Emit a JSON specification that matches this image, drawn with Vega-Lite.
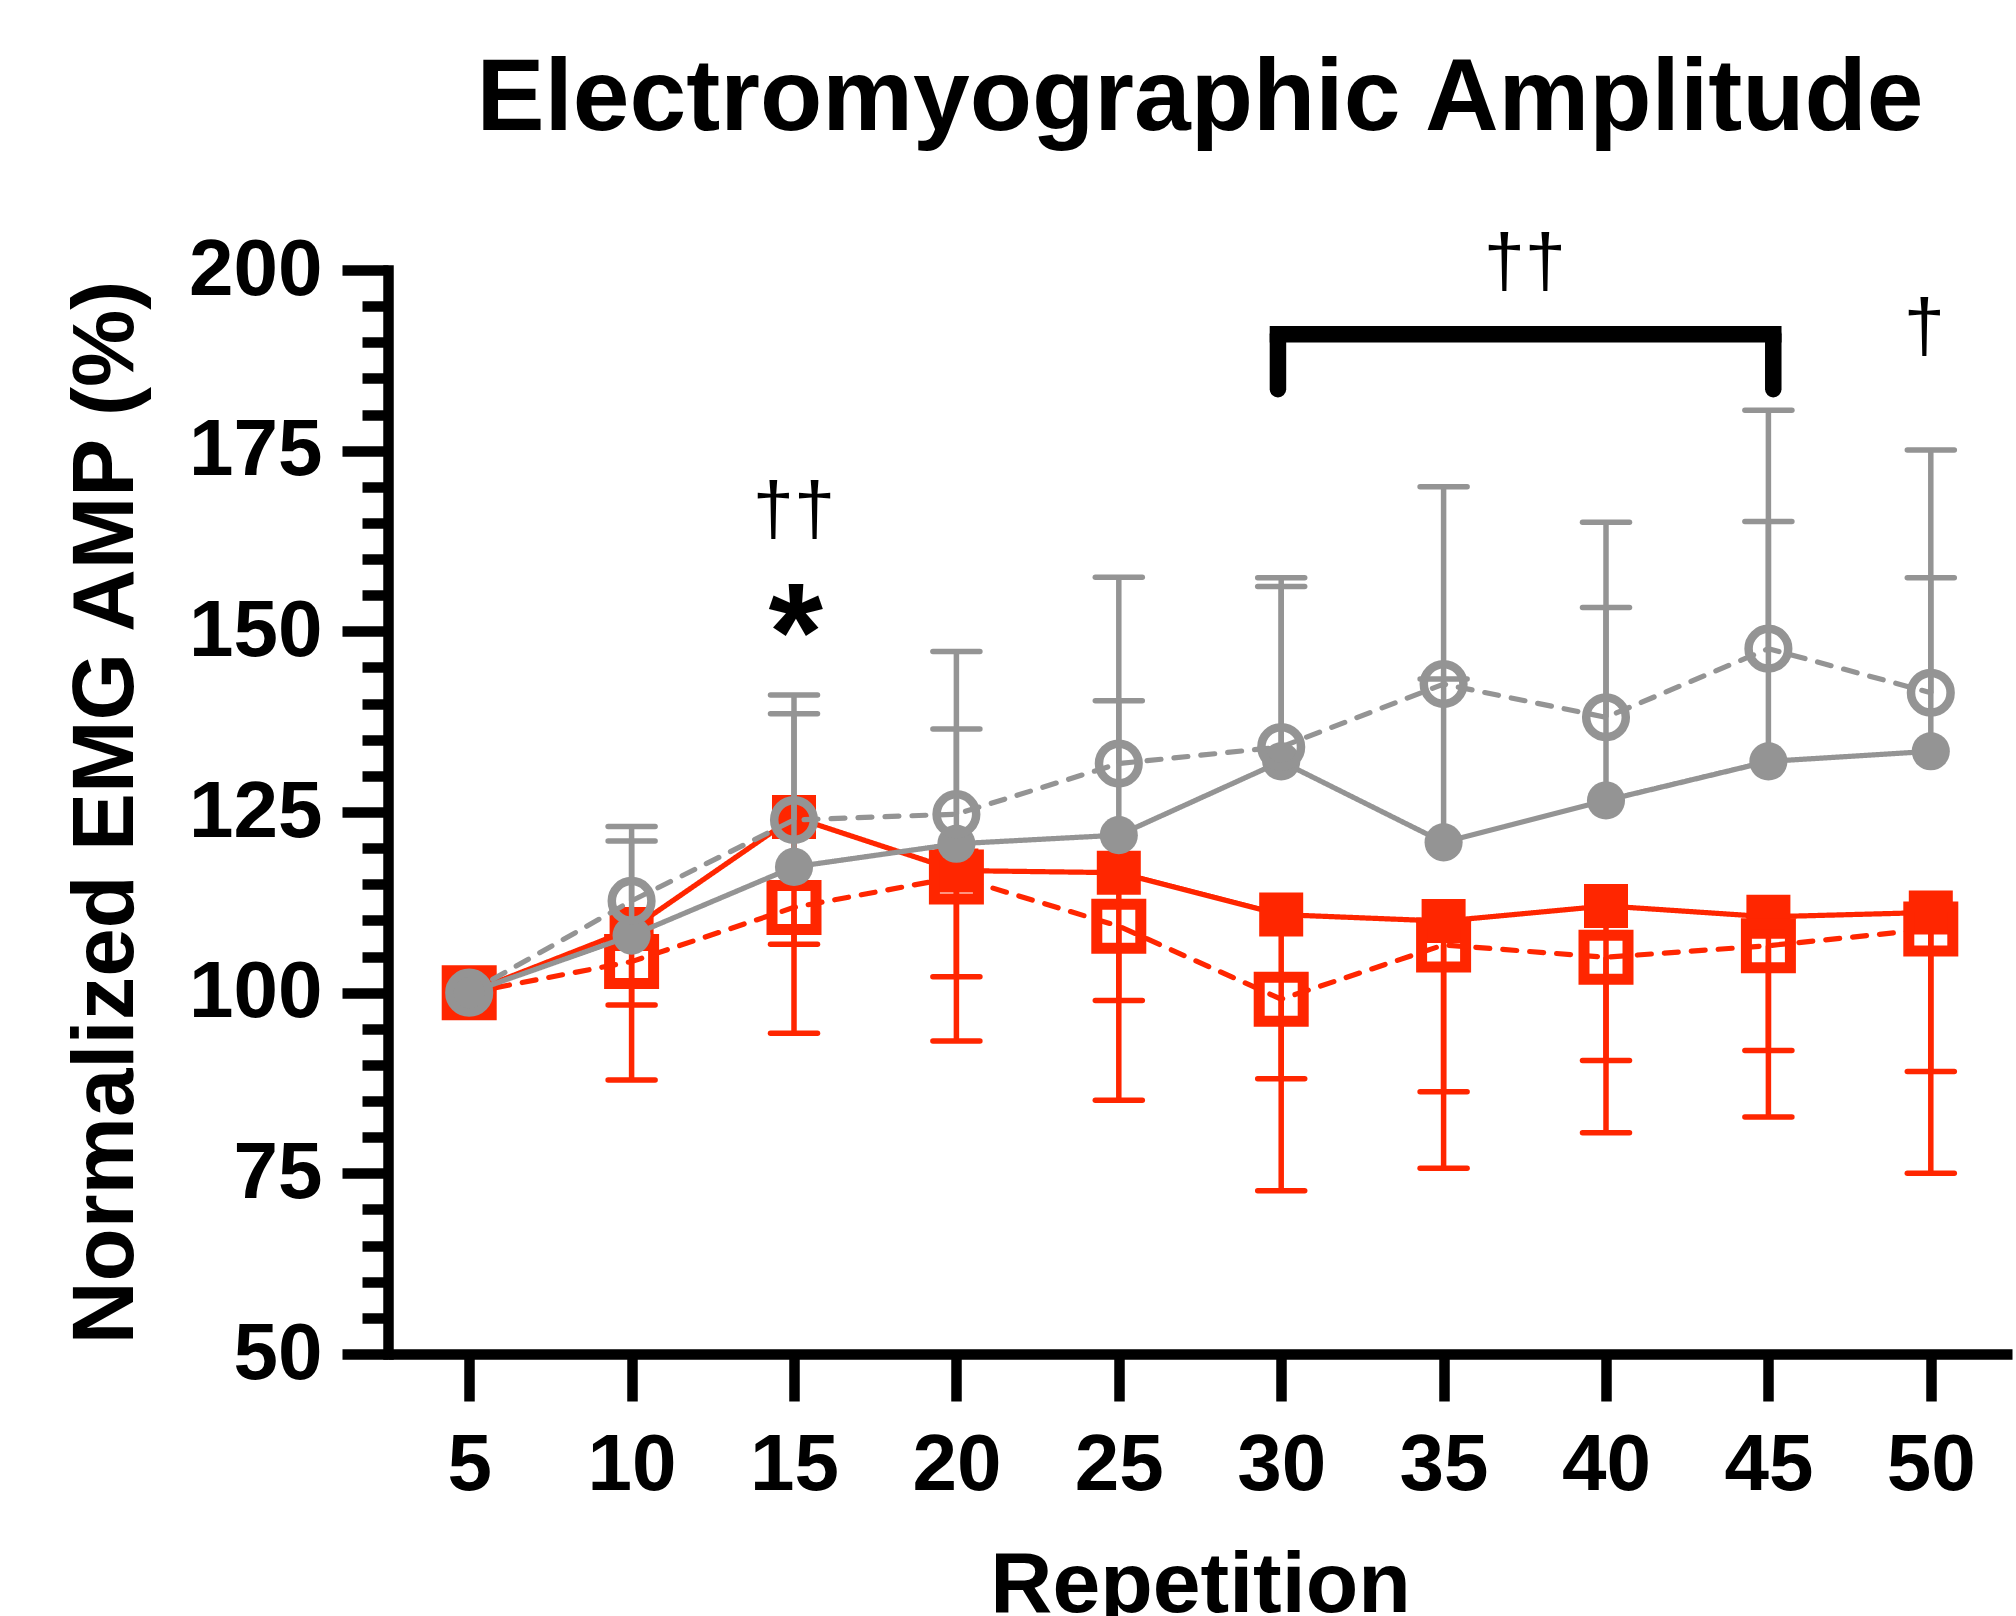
{
  "$schema": "https://vega.github.io/schema/vega-lite/v6.json",
  "width": 1624,
  "height": 1084,
  "autosize": {"type": "none"},
  "padding": {"left": 388, "top": 270, "right": 4, "bottom": 262},
  "background": "white",
  "config": {"view": {"stroke": null}, "font": "Liberation Sans"},
  "title": {"text": "Electromyographic Amplitude", "fontSize": 102, "fontWeight": "bold", "font": "Liberation Sans", "color": "black", "anchor": "middle", "offset": 76},
  "datasets": {
    "main": [
      {"rep": 5, "group": "Group 1", "condition": "Condition A", "value": 100, "bar": null},
      {"rep": 10, "group": "Group 1", "condition": "Condition A", "value": 108.8, "bar": 87.9},
      {"rep": 15, "group": "Group 1", "condition": "Condition A", "value": 124.3, "bar": 94.4},
      {"rep": 20, "group": "Group 1", "condition": "Condition A", "value": 116.9, "bar": 93.3},
      {"rep": 25, "group": "Group 1", "condition": "Condition A", "value": 116.6, "bar": 85.1},
      {"rep": 30, "group": "Group 1", "condition": "Condition A", "value": 110.8, "bar": 72.6},
      {"rep": 35, "group": "Group 1", "condition": "Condition A", "value": 109.9, "bar": 75.7},
      {"rep": 40, "group": "Group 1", "condition": "Condition A", "value": 112.0, "bar": 80.6},
      {"rep": 45, "group": "Group 1", "condition": "Condition A", "value": 110.5, "bar": 82.8},
      {"rep": 50, "group": "Group 1", "condition": "Condition A", "value": 111.1, "bar": 75.0},
      {"rep": 5, "group": "Group 1", "condition": "Condition B", "value": 100, "bar": null},
      {"rep": 10, "group": "Group 1", "condition": "Condition B", "value": 104.3, "bar": 98.3},
      {"rep": 15, "group": "Group 1", "condition": "Condition B", "value": 111.8, "bar": 106.7},
      {"rep": 20, "group": "Group 1", "condition": "Condition B", "value": 116.0, "bar": 102.2},
      {"rep": 25, "group": "Group 1", "condition": "Condition B", "value": 109.2, "bar": 98.9},
      {"rep": 30, "group": "Group 1", "condition": "Condition B", "value": 99.1, "bar": 88.1},
      {"rep": 35, "group": "Group 1", "condition": "Condition B", "value": 106.6, "bar": 86.3},
      {"rep": 40, "group": "Group 1", "condition": "Condition B", "value": 104.9, "bar": 90.6},
      {"rep": 45, "group": "Group 1", "condition": "Condition B", "value": 106.5, "bar": 92.0},
      {"rep": 50, "group": "Group 1", "condition": "Condition B", "value": 108.8, "bar": 89.1},
      {"rep": 5, "group": "Group 2", "condition": "Condition A", "value": 100, "bar": null},
      {"rep": 10, "group": "Group 2", "condition": "Condition A", "value": 107.9, "bar": 123.0},
      {"rep": 15, "group": "Group 2", "condition": "Condition A", "value": 117.4, "bar": 141.2},
      {"rep": 20, "group": "Group 2", "condition": "Condition A", "value": 120.6, "bar": 147.2},
      {"rep": 25, "group": "Group 2", "condition": "Condition A", "value": 121.8, "bar": 157.5},
      {"rep": 30, "group": "Group 2", "condition": "Condition A", "value": 132.0, "bar": 157.4},
      {"rep": 35, "group": "Group 2", "condition": "Condition A", "value": 120.8, "bar": 143.4},
      {"rep": 40, "group": "Group 2", "condition": "Condition A", "value": 126.6, "bar": 165.1},
      {"rep": 45, "group": "Group 2", "condition": "Condition A", "value": 132.0, "bar": 180.6},
      {"rep": 50, "group": "Group 2", "condition": "Condition A", "value": 133.4, "bar": 175.1},
      {"rep": 5, "group": "Group 2", "condition": "Condition B", "value": 100, "bar": null},
      {"rep": 10, "group": "Group 2", "condition": "Condition B", "value": 112.7, "bar": 121.0},
      {"rep": 15, "group": "Group 2", "condition": "Condition B", "value": 123.9, "bar": 138.6},
      {"rep": 20, "group": "Group 2", "condition": "Condition B", "value": 124.7, "bar": 136.5},
      {"rep": 25, "group": "Group 2", "condition": "Condition B", "value": 131.7, "bar": 140.4},
      {"rep": 30, "group": "Group 2", "condition": "Condition B", "value": 134.0, "bar": 156.2},
      {"rep": 35, "group": "Group 2", "condition": "Condition B", "value": 142.7, "bar": 170.0},
      {"rep": 40, "group": "Group 2", "condition": "Condition B", "value": 138.1, "bar": 153.3},
      {"rep": 45, "group": "Group 2", "condition": "Condition B", "value": 147.6, "bar": 165.2},
      {"rep": 50, "group": "Group 2", "condition": "Condition B", "value": 141.5, "bar": 157.4}
    ],
    "notes": [
      {"rep": 15, "value": 163.5, "label": "††"},
      {"rep": 37.5, "value": 197.8, "label": "††"},
      {"rep": 49.8, "value": 188.8, "label": "†"},
      {"rep": 15.05, "value": 143.2, "label": "*"}
    ],
    "legs": [
      {"rep": 29.9, "value": 191.1, "value2": 183.5},
      {"rep": 45.15, "value": 191.1, "value2": 183.5}
    ],
    "span": [
      {"rep": 29.9, "rep2": 45.15, "value": 191.1}
    ]
  },
  "encoding": {
    "x": {
      "field": "rep", "type": "quantitative",
      "scale": {"domain": [2.5, 52.5], "nice": false, "zero": false},
      "axis": {
        "values": [5, 10, 15, 20, 25, 30, 35, 40, 45, 50],
        "tickSize": 47, "tickWidth": 10.5, "tickColor": "black",
        "domainColor": "black", "domainWidth": 10.5,
        "labelFontSize": 80, "labelFontWeight": "bold", "labelColor": "black", "labelFont": "Liberation Sans", "labelPadding": 25,
        "labelFlush": false, "labelOverlap": false, "grid": false,
        "title": "Repetition", "titleFontSize": 86, "titleFontWeight": "bold", "titleColor": "black", "titleFont": "Liberation Sans", "titlePadding": 38
      }
    },
    "y": {
      "field": "value", "type": "quantitative",
      "scale": {"domain": [50, 200], "nice": false, "zero": false},
      "axis": {
        "values": [50, 55, 60, 65, 70, 75, 80, 85, 90, 95, 100, 105, 110, 115, 120, 125, 130, 135, 140, 145, 150, 155, 160, 165, 170, 175, 180, 185, 190, 195, 200],
        "labelExpr": "datum.value % 25 === 0 ? datum.label : ''",
        "tickSize": {"condition": {"test": "datum.value % 25 === 0", "value": 46}, "value": 26},
        "tickWidth": 10.5, "tickColor": "black",
        "domainColor": "black", "domainWidth": 10.5, "domainCap": "square",
        "labelFontSize": 80, "labelFontWeight": "bold", "labelColor": "black", "labelFont": "Liberation Sans", "labelPadding": 20,
        "labelFlush": false, "labelOverlap": false, "grid": false,
        "title": "Normalized EMG AMP (%)", "titleFontSize": 87, "titleFontWeight": "bold", "titleColor": "black", "titleFont": "Liberation Sans", "titlePadding": 38
      }
    }
  },
  "layer": [
    {
      "data": {"name": "main"},
      "transform": [{"filter": "datum.group === 'Group 1' && isValid(datum.bar)"}],
      "mark": {"type": "rule", "color": "#ff2600", "strokeWidth": 5.5},
      "encoding": {"y2": {"field": "bar"}}
    },
    {
      "data": {"name": "main"},
      "transform": [{"filter": "datum.group === 'Group 1' && isValid(datum.bar)"}],
      "mark": {"type": "point", "shape": "M-1,0L1,0", "size": 2209, "filled": false, "color": "#ff2600", "strokeWidth": 5.5, "strokeCap": "round", "opacity": 1},
      "encoding": {"y": {"field": "bar", "type": "quantitative", "scale": {"domain": [50, 200], "nice": false, "zero": false}}}
    },
    {
      "data": {"name": "main"},
      "transform": [{"filter": "datum.group === 'Group 1'"}],
      "mark": {"type": "line", "color": "#ff2600", "strokeWidth": 5.2, "strokeCap": "round"},
      "encoding": {"strokeDash": {"field": "condition", "type": "nominal", "scale": {"domain": ["Condition A", "Condition B"], "range": [[1, 0], [14, 13]]}, "legend": null}}
    },
    {
      "data": {"name": "main"},
      "transform": [{"filter": "datum.group === 'Group 1' && datum.condition === 'Condition A'"}],
      "mark": {"type": "point", "shape": "square", "filled": true, "size": 1936, "color": "#ff2600", "opacity": 1}
    },
    {
      "data": {"name": "main"},
      "transform": [{"filter": "datum.group === 'Group 1' && datum.condition === 'Condition B'"}],
      "mark": {"type": "point", "shape": "square", "filled": false, "size": 1936, "strokeWidth": 11, "color": "#ff2600", "opacity": 1}
    },
    {
      "data": {"name": "main"},
      "transform": [{"filter": "datum.group === 'Group 2' && isValid(datum.bar)"}],
      "mark": {"type": "rule", "color": "#949494", "strokeWidth": 5.5},
      "encoding": {"y2": {"field": "bar"}}
    },
    {
      "data": {"name": "main"},
      "transform": [{"filter": "datum.group === 'Group 2' && isValid(datum.bar)"}],
      "mark": {"type": "point", "shape": "M-1,0L1,0", "size": 2209, "filled": false, "color": "#949494", "strokeWidth": 5.5, "strokeCap": "round", "opacity": 1},
      "encoding": {"y": {"field": "bar", "type": "quantitative", "scale": {"domain": [50, 200], "nice": false, "zero": false}}}
    },
    {
      "data": {"name": "main"},
      "transform": [{"filter": "datum.group === 'Group 2'"}],
      "mark": {"type": "line", "color": "#949494", "strokeWidth": 5.2, "strokeCap": "round"},
      "encoding": {"strokeDash": {"field": "condition", "type": "nominal", "scale": {"domain": ["Condition A", "Condition B"], "range": [[1, 0], [14, 13]]}, "legend": null}}
    },
    {
      "data": {"name": "main"},
      "transform": [{"filter": "datum.group === 'Group 2' && datum.condition === 'Condition A'"}],
      "mark": {"type": "point", "shape": "circle", "filled": true, "size": 1452, "color": "#949494", "opacity": 1}
    },
    {
      "data": {"name": "main"},
      "transform": [{"filter": "datum.group === 'Group 2' && datum.condition === 'Condition B'"}],
      "mark": {"type": "point", "shape": "circle", "filled": false, "size": 1569, "strokeWidth": 8.5, "color": "#949494", "opacity": 1}
    },
    {
      "data": {"name": "legs"},
      "mark": {"type": "rule", "color": "black", "strokeWidth": 16.5, "strokeCap": "round"},
      "encoding": {"y2": {"field": "value2"}}
    },
    {
      "data": {"name": "span"},
      "mark": {"type": "rule", "color": "black", "strokeWidth": 16.5, "strokeCap": "square"},
      "encoding": {"x2": {"field": "rep2"}}
    },
    {
      "data": {"name": "notes"},
      "transform": [{"filter": "datum.label !== '*'"}],
      "mark": {"type": "text", "font": "Liberation Sans", "fontSize": 74, "fontWeight": "normal", "color": "black", "align": "center", "baseline": "alphabetic"},
      "encoding": {"text": {"field": "label"}}
    },
    {
      "data": {"name": "notes"},
      "transform": [{"filter": "datum.label === '*'"}],
      "mark": {"type": "text", "font": "Liberation Sans", "fontSize": 140, "fontWeight": "bold", "color": "black", "align": "center", "baseline": "alphabetic"},
      "encoding": {"text": {"field": "label"}}
    }
  ]
}
